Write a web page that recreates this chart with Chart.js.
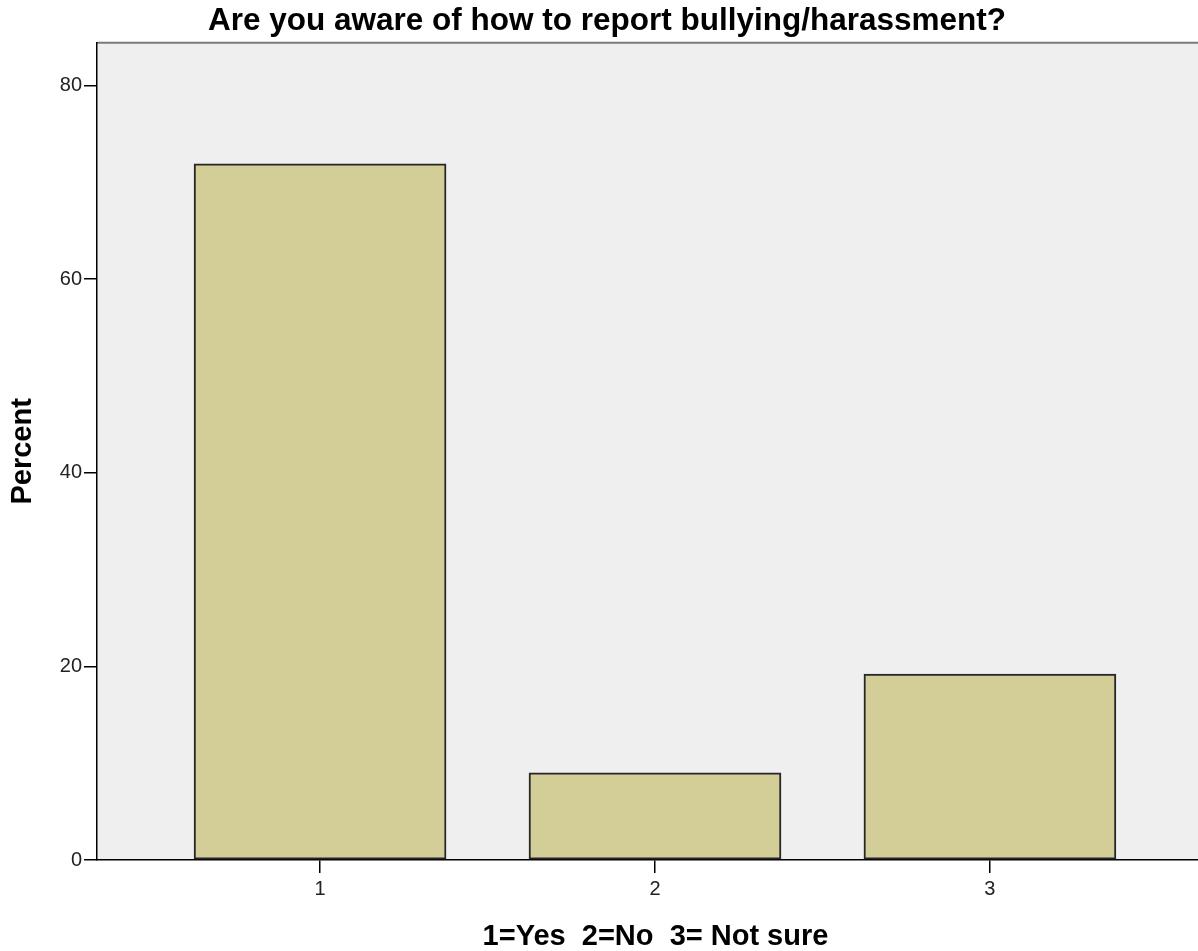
<!DOCTYPE html>
<html>
<head>
<meta charset="utf-8">
<script src="https://cdn.jsdelivr.net/npm/chart.js@4.4.0/dist/chart.umd.min.js"></script>
<style>
  html, body { margin: 0; padding: 0; background: #fff; overflow: hidden; }
  #wrap { width: 1214px; height: 951px; position: relative; }
</style>
</head>
<body>
<div id="wrap"><canvas id="chart"></canvas></div>
<script>
// data
const categories = ['1', '2', '3'];
const percents = [71.9, 9.0, 19.2];
const yTicks = [0, 20, 40, 60, 80];

const FONT = '"Liberation Sans", Arial, sans-serif';

// grey plot background + top frame line
const plotBg = {
    id: 'plotBg',
    beforeDraw(chart) {
        const { ctx, chartArea: a } = chart;
        ctx.save();
        ctx.fillStyle = '#efefef';
        ctx.fillRect(a.left, a.top, a.right - a.left, a.bottom - a.top);
        ctx.strokeStyle = '#7a7a7a';
        ctx.lineWidth = 2;
        ctx.beginPath();
        ctx.moveTo(a.left, a.top);
        ctx.lineTo(a.right, a.top);
        ctx.stroke();
        ctx.restore();
    }
};

const ctx = document.getElementById('chart').getContext('2d');
new Chart(ctx, {
    type: 'bar',
    data: {
        datasets: [{
            label: 'Percent',
            data: categories.map((c, i) => ({ x: i + 1, y: percents[i] })),
            backgroundColor: '#d3ce97',
            borderColor: '#262626',
            borderWidth: 2,
            borderSkipped: false,
            barThickness: 252
        }]
    },
    options: {
        responsive: true,
        maintainAspectRatio: false,
        animation: false,
        layout: { padding: 0 },
        plugins: {
            legend: { display: false },
            tooltip: { enabled: false },
            title: {
                display: true,
                text: 'Are you aware of how to report bullying/harassment?',
                color: '#000',
                font: { family: FONT, size: 31.5, weight: 'bold', lineHeight: 1.2 },
                padding: { top: 2, bottom: 3 }
            }
        },
        scales: {
            x: {
                type: 'linear',
                offset: false,
                min: 0.334,
                max: 3.669,
                afterBuildTicks(scale) {
                    scale.ticks = categories.map((c, i) => ({ value: i + 1 }));
                },
                afterFit(scale) { scale.height = 91; },
                ticks: {
                    color: '#222',
                    font: { family: FONT, size: 20 },
                    padding: 4,
                    maxRotation: 0,
                    callback: (v) => categories[v - 1]
                },
                grid: {
                    display: true,
                    offset: false,
                    drawOnChartArea: false,
                    drawTicks: true,
                    tickLength: 13,
                    color: '#000',
                    lineWidth: 1.5
                },
                border: { display: true, color: '#000', width: 1.5 },
                title: {
                    display: true,
                    text: '1=Yes  2=No  3= Not sure',
                    color: '#000',
                    font: { family: FONT, size: 29, weight: 'bold', lineHeight: 1 },
                    padding: { top: 0, bottom: 0 }
                }
            },
            y: {
                min: 0,
                max: 84.4,
                afterBuildTicks(scale) {
                    scale.ticks = yTicks.map(v => ({ value: v }));
                },
                afterFit(scale) { scale.width = 97; },
                ticks: {
                    color: '#222',
                    font: { family: FONT, size: 20 },
                    padding: 2
                },
                grid: {
                    display: true,
                    drawOnChartArea: false,
                    drawTicks: true,
                    tickLength: 13,
                    color: '#000',
                    lineWidth: 1.5
                },
                border: { display: true, color: '#000', width: 1.5 },
                title: {
                    display: true,
                    text: 'Percent',
                    color: '#000',
                    font: { family: FONT, size: 29, weight: 'bold', lineHeight: 1 },
                    padding: { top: 8, bottom: 0 }
                }
            }
        }
    },
    plugins: [plotBg]
});
</script>
</body>
</html>
